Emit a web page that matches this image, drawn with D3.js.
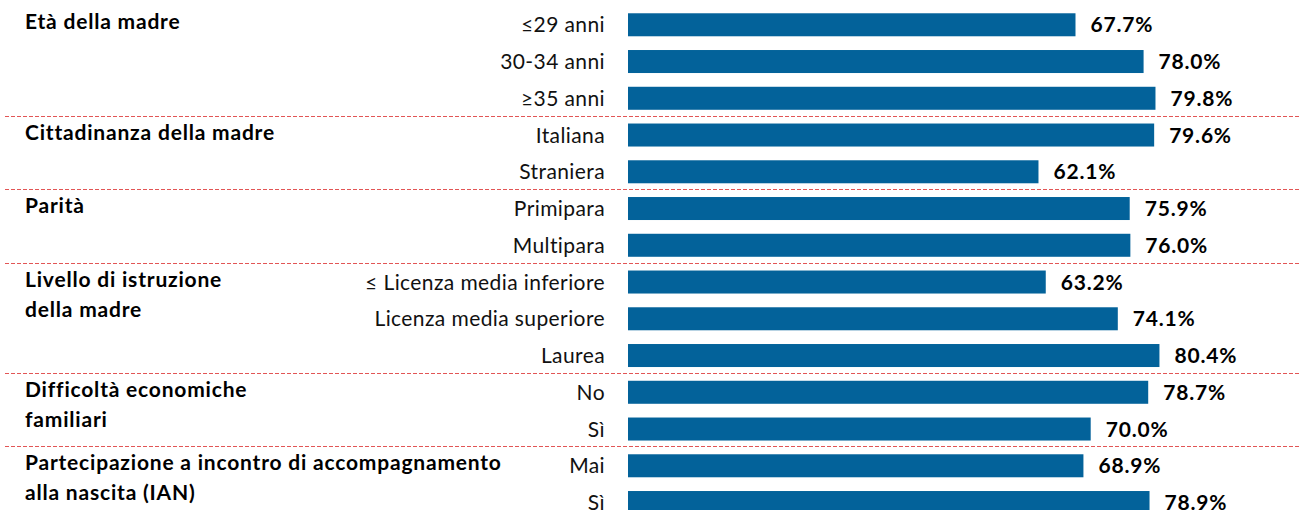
<!DOCTYPE html>
<html><head><meta charset="utf-8">
<script src="https://cdn.jsdelivr.net/npm/d3@7"></script>
<style>
html,body{margin:0;padding:0;background:#fff;}
svg{display:block;font-family:Lato,"Open Sans",sans-serif;}
</style></head>
<body>
<svg id="c" width="1299" height="510"></svg>
<script>
const categories = ["≤29 anni","30-34 anni","≥35 anni","Italiana","Straniera","Primipara","Multipara","≤ Licenza media inferiore","Licenza media superiore","Laurea","No","Sì","Mai","Sì"];
const values = [67.7,78.0,79.8,79.6,62.1,75.9,76.0,63.2,74.1,80.4,78.7,70.0,68.9,78.9];
const groupLabels = [["Età della madre"],["Cittadinanza della madre"],["Parità"],["Livello di istruzione","della madre"],["Difficoltà economiche","familiari"],["Partecipazione a incontro di accompagnamento","alla nascita (IAN)"]];
const groupSizes = [3,2,2,3,2,2];

const svg = d3.select("#c");
const idx = d3.range(categories.length);
const x = d3.scaleLinear().domain([0,100]).range([628,1289]);
const y = d3.scaleBand().domain(idx).range([6.4,520.9]).paddingInner(0.374).paddingOuter(0.187);

// bars
svg.append("g").selectAll("rect").data(idx).join("rect")
  .attr("x", x(0)).attr("y", i=>y(i)).attr("width", i=>x(values[i])-x(0)).attr("height", y.bandwidth())
  .attr("fill","#03629a");

// value labels
svg.append("g").selectAll("text").data(idx).join("text")
  .attr("x", i=>x(values[i])+15).attr("y", i=>y(i)+y.bandwidth()/2).attr("dy","0.36em")
  .attr("font-size",21).attr("font-weight","bold").attr("letter-spacing","0.8px").attr("fill","#000")
  .text(i=>values[i].toFixed(1)+"%");

// category labels
svg.append("g").selectAll("text").data(idx).join("text")
  .attr("x", 605).attr("y", i=>y(i)+y.bandwidth()/2).attr("dy","0.36em")
  .attr("text-anchor","end").attr("font-size",21).attr("letter-spacing","0.4px").attr("fill","#111")
  .text(i=>categories[i]);

// group labels and separators
let start = 0;
groupSizes.forEach((n,g)=>{
  const cy = y(start)+y.bandwidth()/2 - 3;
  const t = svg.append("text").attr("x",25).attr("y",cy).attr("font-size",21).attr("font-weight","bold")
    .attr("letter-spacing","0.8px").attr("fill","#000");
  groupLabels[g].forEach((line,k)=>{
    t.append("tspan").attr("x",25).attr("y",cy + k*30).attr("dy","0.36em").text(line);
  });
  if (g>0){
    const sy = Math.round(y(start) - (y.step()-y.bandwidth())/2 - 1) + 0.5;
    svg.append("line").attr("x1",5).attr("x2",1299).attr("y1",sy).attr("y2",sy)
      .attr("stroke","#e25555").attr("stroke-width",1).attr("stroke-dasharray","4,2");
  }
  start += n;
});
</script>
</body></html>
